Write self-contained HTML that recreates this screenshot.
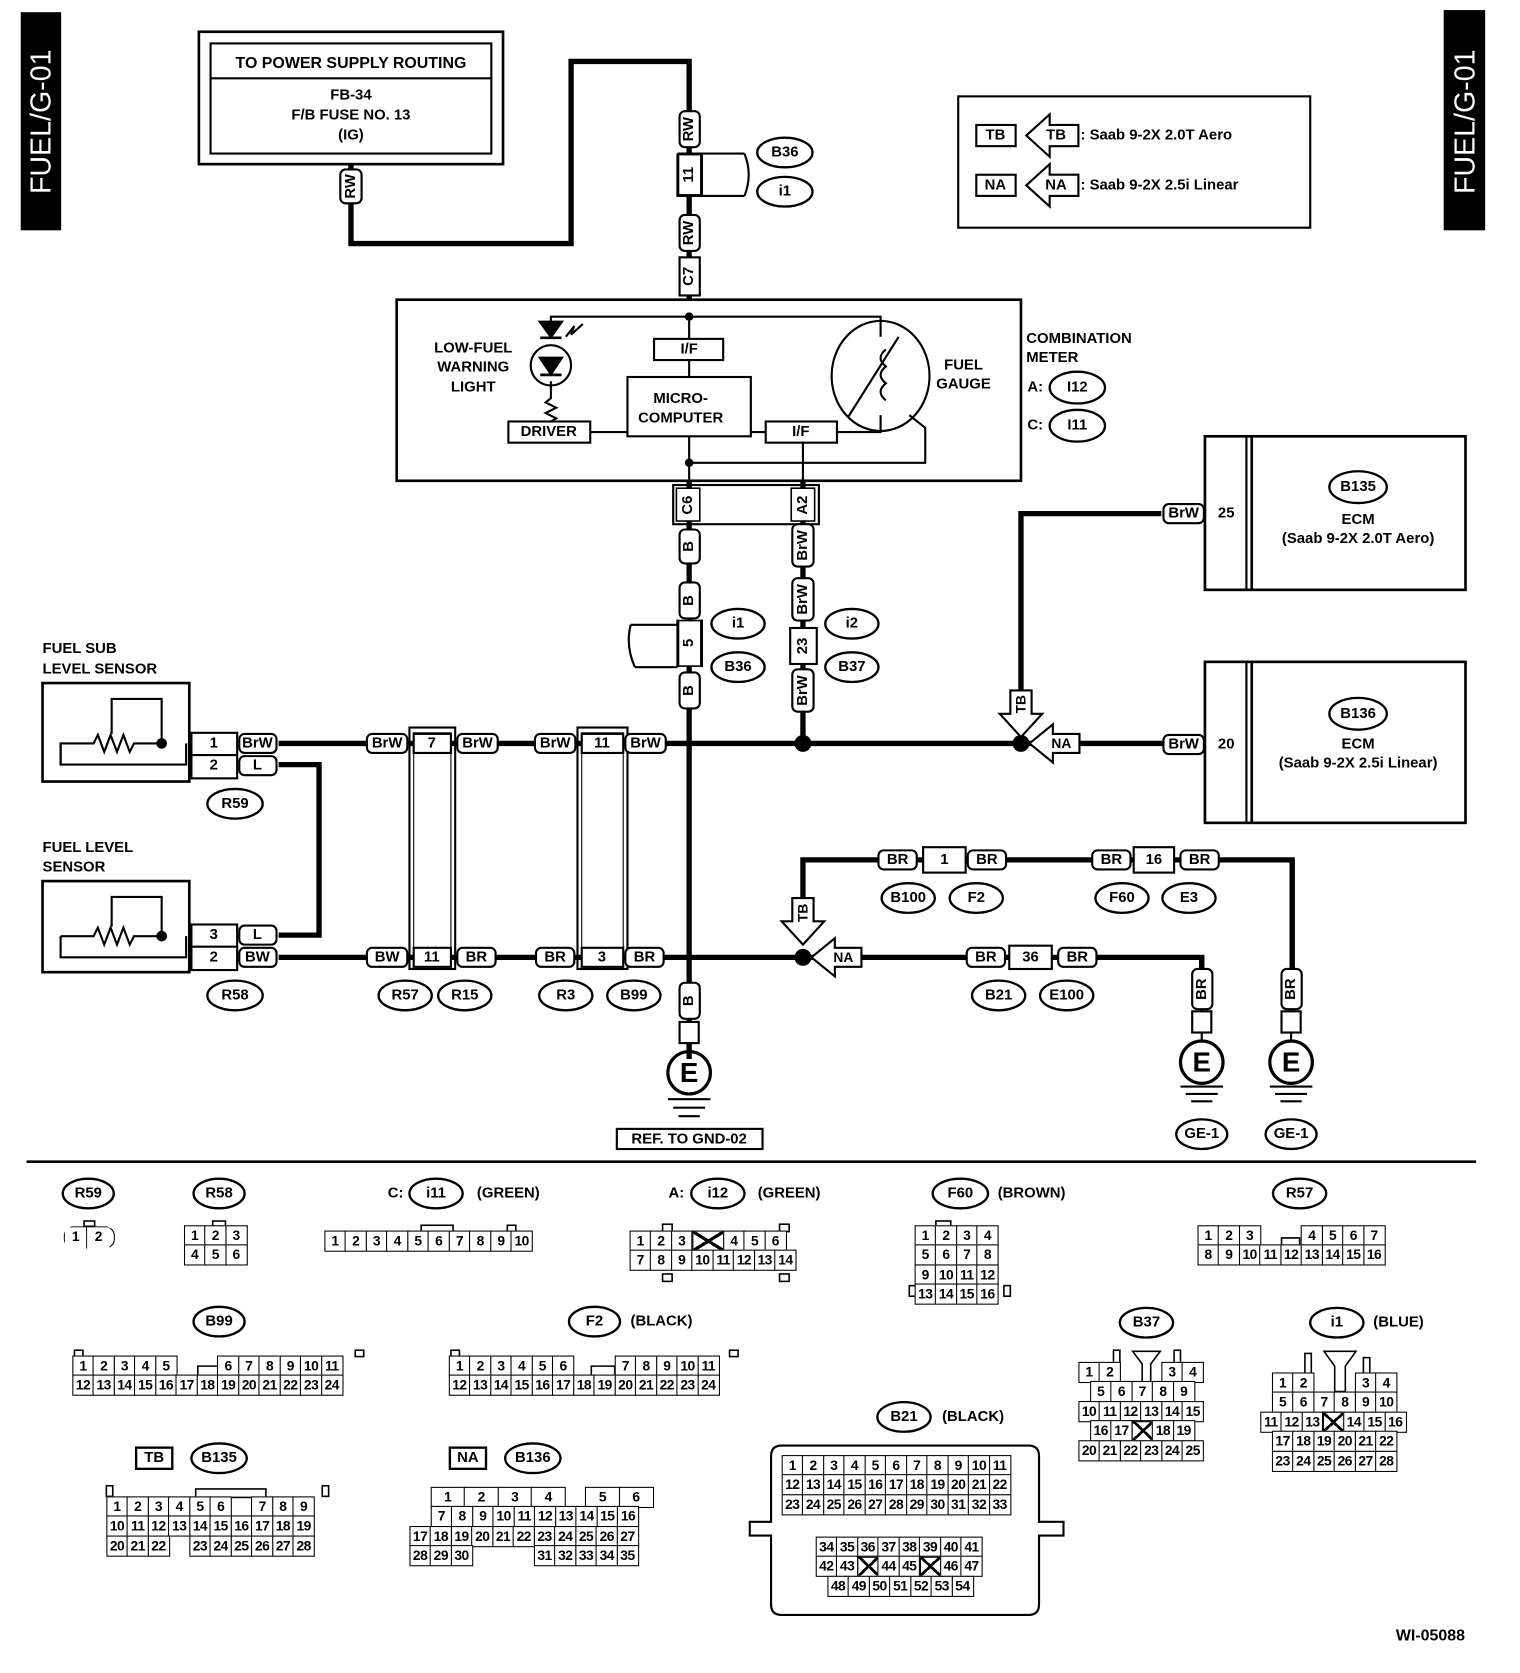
<!DOCTYPE html>
<html><head><meta charset="utf-8"><style>
html,body{margin:0;padding:0;background:#fff;}
#w{position:relative;width:1440px;height:1580px;transform:scale(1.0635,1.059);transform-origin:0 0;overflow:hidden;font-family:"Liberation Sans",Arial,sans-serif;}
svg{position:absolute;left:0;top:0}
svg text{font-family:"Liberation Sans",Arial,sans-serif;font-size:14px;font-weight:bold;text-anchor:middle;dominant-baseline:central;fill:#000}
.g{position:absolute}
.g div{display:flex;height:20px;margin-top:-1.5px}
.g span{display:block;width:21px;height:20px;border:1.5px solid #000;margin-left:-1.5px;box-sizing:border-box;font:bold 13px "Liberation Sans",Arial,sans-serif;text-align:center;line-height:18px;letter-spacing:-0.5px;background:#fff}
.g i{display:block;width:21px;height:20px;margin-left:-1.5px}
.g span.x{background:linear-gradient(to top right,transparent 46%,#000 46%,#000 56%,transparent 56%),linear-gradient(to bottom right,transparent 46%,#000 46%,#000 56%,transparent 56%)}
.g span.w{width:33px}
</style></head><body><div id="w">
<svg width="1440" height="1580" viewBox="0 0 1440 1580">
<g stroke="#000" fill="none">
<rect x="20" y="12" width="37" height="205" fill="#000"/>
<rect x="1358" y="10" width="38" height="207" fill="#000"/>
</g>
<text transform="translate(39,115) rotate(-90)" style="fill:#fff;font-size:27px;font-weight:normal">FUEL/G-01</text>
<text transform="translate(1378,115) rotate(-90)" style="fill:#fff;font-size:27px;font-weight:normal">FUEL/G-01</text>

<g stroke="#000" fill="none" stroke-width="2.5">
<rect x="187" y="30" width="286" height="125"/>
<rect x="198" y="41" width="264" height="104" stroke-width="2"/>
<line x1="198" y1="74" x2="462" y2="74" stroke-width="2"/>
<g stroke-width="5">
<polyline points="330,155 330,230 537,230 537,58 648,58 648,283"/>
<line x1="648" y1="454" x2="648" y2="1000"/>
<line x1="755" y1="454" x2="755" y2="702"/>
<line x1="262" y1="702" x2="1115" y2="702"/>
<polyline points="1092,485 960,485 960,660"/>
<polyline points="262,722 300,722 300,883 262,883"/>
<polyline points="262,904 1130,904 1130,925"/>
<polyline points="755,870 755,812 1215,812 1215,925"/>
</g>
<rect x="373" y="283" width="587" height="171"/>
<g stroke-width="2">
<polyline points="518,305 518,299 828,299 828,318"/>
<line x1="648" y1="299" x2="648" y2="320"/>
<line x1="648" y1="340" x2="648" y2="356"/>
<line x1="648" y1="412" x2="648" y2="454"/>
<polyline points="648,437 870,437 870,404 855,392"/>
<line x1="755" y1="417" x2="755" y2="454"/>
<line x1="555" y1="408" x2="590" y2="408"/>
<line x1="706" y1="408" x2="720" y2="408"/>
<polyline points="787,408 828,408 828,392"/>
<rect x="615" y="320" width="65" height="20"/>
<rect x="590" y="356" width="116" height="56"/>
<rect x="478" y="398" width="77" height="20"/>
<rect x="720" y="398" width="67" height="20"/>
<ellipse cx="828" cy="355" rx="46" ry="52"/>
<line x1="798" y1="393" x2="845" y2="318"/>
<circle cx="518" cy="345" r="19"/>
<polyline points="518,360 518,376 513,380 523,385 513,390 523,395 518,398"/>
</g>
<path d="M833,330 q-10,8 0,16 q-10,8 0,16 q-10,8 0,16" stroke-width="2"/>
<path d="M508,338 L528,338 L518,353 Z" fill="#000"/><line x1="508" y1="354" x2="528" y2="354"/>
<path d="M508,304 L528,304 L518,318 Z" fill="#000"/><line x1="508" y1="319" x2="528" y2="319"/>
<polyline points="532,318 540,308 537,316 548,306" stroke-width="2"/>
<rect x="633" y="458" width="137" height="37" stroke-width="2"/>
<rect x="636" y="461" width="22" height="31" stroke-width="1.5" fill="#fff"/>
<rect x="744" y="461" width="22" height="31" stroke-width="1.5" fill="#fff"/>
<path d="M637,145 V185 H700 M637,145 H700 M660,145 V185" stroke-width="2"/>
<rect x="638" y="146" width="21" height="38" fill="#fff" stroke-width="1.5"/>
<path d="M700,145 q8,20 0,40" stroke-width="2"/>
<path d="M660,585 V630 M637,585 V630 M637,590 H593 M637,630 H597" stroke-width="2"/>
<rect x="638" y="586" width="21" height="43" fill="#fff" stroke-width="1.5"/>
<path d="M593,590 q-5,20 4,40" stroke-width="2"/>
<rect x="743" y="593" width="25" height="34" stroke-width="2" fill="#fff"/>
<rect x="385" y="687" width="43" height="228" stroke-width="2"/>
<rect x="389" y="692" width="35" height="219" stroke-width="1"/>
<rect x="543" y="687" width="47" height="228" stroke-width="2"/>
<rect x="547" y="692" width="39" height="219" stroke-width="1"/>
<rect x="389" y="693" width="35" height="18" stroke-width="2" fill="#fff"/>
<rect x="389" y="895" width="35" height="18" stroke-width="2" fill="#fff"/>
<rect x="547" y="693" width="39" height="18" stroke-width="2" fill="#fff"/>
<rect x="547" y="895" width="39" height="18" stroke-width="2" fill="#fff"/>
<rect x="40" y="645" width="138" height="93"/>
<polyline points="57,702 57,722 175,722 175,702" stroke-width="2"/>
<polyline points="57,722 57,702 88,702 92,694 98,710 104,694 110,710 116,694 122,710 126,702 152,702" stroke-width="2"/>
<polyline points="105,693 105,660 152,660 152,702" stroke-width="2"/>
<rect x="40" y="832" width="138" height="86"/>
<polyline points="57,884 57,904 175,904 175,884" stroke-width="2"/>
<polyline points="57,884 88,884 92,876 98,892 104,876 110,892 116,876 122,892 126,884 152,884" stroke-width="2"/>
<polyline points="105,875 105,847 152,847 152,884" stroke-width="2"/>
<rect x="180" y="692" width="43" height="43" stroke-width="2"/>
<line x1="180" y1="713" x2="223" y2="713" stroke-width="2"/>
<rect x="180" y="873" width="43" height="43" stroke-width="2"/>
<line x1="180" y1="894" x2="223" y2="894" stroke-width="2"/>
<rect x="1133" y="412" width="245" height="145"/>
<rect x="1133" y="412" width="39" height="145" stroke-width="2"/>
<line x1="1177" y1="412" x2="1177" y2="557"/>
<rect x="1133" y="625" width="245" height="152"/>
<rect x="1133" y="625" width="39" height="152" stroke-width="2"/>
<line x1="1177" y1="625" x2="1177" y2="777"/>
<rect x="901" y="91" width="331" height="124" stroke-width="2"/>
<line x1="25" y1="1097" x2="1388" y2="1097" stroke-width="2.5"/>
<g stroke-width="2">
<rect x="639" y="965" width="18" height="20" fill="#fff"/><line x1="648" y1="985" x2="648" y2="993"/>
<circle cx="648" cy="1013" r="20" stroke-width="3"/>
<line x1="628" y1="1038" x2="668" y2="1038"/><line x1="633" y1="1046" x2="663" y2="1046"/><line x1="638" y1="1054" x2="658" y2="1054"/>
<line x1="1130" y1="945" x2="1130" y2="983"/><rect x="1121" y="955" width="18" height="20" fill="#fff"/>
<circle cx="1130" cy="1003" r="20" stroke-width="3"/>
<line x1="1110" y1="1026" x2="1150" y2="1026"/><line x1="1115" y1="1033" x2="1145" y2="1033"/><line x1="1120" y1="1040" x2="1140" y2="1040"/>
<line x1="1214" y1="945" x2="1214" y2="983"/><rect x="1205" y="955" width="18" height="20" fill="#fff"/>
<circle cx="1214" cy="1003" r="20" stroke-width="3"/>
<line x1="1194" y1="1026" x2="1234" y2="1026"/><line x1="1199" y1="1033" x2="1229" y2="1033"/><line x1="1204" y1="1040" x2="1224" y2="1040"/>
<line x1="1130" y1="904" x2="1130" y2="945" stroke-width="5"/>
<line x1="1215" y1="812" x2="1215" y2="945" stroke-width="5"/>
<rect x="580" y="1066" width="137" height="19"/>
</g>
<path d="M735,1365 h232 q10,0 10,10 v62 h23 v13 h-23 v65 q0,10 -10,10 h-232 q-10,0 -10,-10 v-65 h-20 v-13 h20 v-62 q0,-10 10,-10 Z" stroke-width="2"/>
<rect x="1047" y="1275" width="6" height="12" stroke-width="1.5"/><rect x="1104" y="1275" width="6" height="12" stroke-width="1.5"/>
<path d="M1065,1276 h26 l-9,12 v20 h-8 v-20 Z" stroke-width="1.5"/>
<rect x="1227" y="1278" width="6" height="20" stroke-width="1.5"/><rect x="1282" y="1282" width="6" height="16" stroke-width="1.5"/>
<path d="M1245,1276 h30 l-10,14 v24 h-10 v-24 Z" stroke-width="1.5"/>
<rect x="184" y="1406" width="66" height="8" stroke-width="1.5"/>
<rect x="100" y="1403" width="6" height="10" stroke-width="1.5"/><rect x="303" y="1403" width="6" height="10" stroke-width="1.5"/>
<rect x="70" y="1275" width="8" height="6" stroke-width="1.5"/><rect x="334" y="1275" width="8" height="6" stroke-width="1.5"/>
<rect x="424" y="1275" width="8" height="6" stroke-width="1.5"/><rect x="686" y="1275" width="8" height="6" stroke-width="1.5"/>
<polyline points="186,1298 186,1290 206,1290 206,1298" stroke-width="1.5"/>
<polyline points="556,1298 556,1290 578,1290 578,1298" stroke-width="1.5"/>
<polyline points="1205,1178 1205,1169 1222,1169 1222,1178" stroke-width="1.5"/>
<rect x="200" y="1153" width="12" height="5" stroke-width="1.5"/><rect x="79" y="1153" width="10" height="5" stroke-width="1.5"/>
<rect x="396" y="1157" width="30" height="6" stroke-width="1.5"/><rect x="477" y="1157" width="8" height="6" stroke-width="1.5"/>
<rect x="623" y="1156" width="9" height="7" stroke-width="1.5"/><rect x="623" y="1203" width="9" height="7" stroke-width="1.5"/>
<rect x="733" y="1156" width="9" height="7" stroke-width="1.5"/><rect x="733" y="1203" width="9" height="7" stroke-width="1.5"/>
<rect x="880" y="1153" width="14" height="5" stroke-width="1.5"/><rect x="855" y="1214" width="6" height="10" stroke-width="1.5"/><rect x="944" y="1214" width="6" height="10" stroke-width="1.5"/>
</g>

<g fill="#000">
<circle cx="755" cy="702" r="8"/><circle cx="960" cy="702" r="8"/><circle cx="755" cy="904" r="8"/>
<circle cx="648" cy="299" r="4"/><circle cx="648" cy="437" r="4"/>
<circle cx="152" cy="702" r="5"/><circle cx="152" cy="884" r="5"/>
</g>

<g stroke="#000" stroke-width="2" fill="#fff">
<path d="M950,652 h20 v22 h10 l-20,22 l-20,-22 h10 Z"/>
<path d="M968,702 l22,-18 v9 h25 v18 h-25 v9 Z"/>
<path d="M745,848 h20 v22 h10 l-20,22 l-20,-22 h10 Z"/>
<path d="M763,904 l22,-18 v9 h25 v18 h-25 v9 Z"/>
<path d="M965,128 l22,-20 v10 h27 v20 h-27 v10 Z"/>
<path d="M965,175 l22,-20 v10 h27 v20 h-27 v10 Z"/>
<rect x="918" y="118" width="37" height="20"/>
<rect x="918" y="165" width="37" height="20"/>
</g>
<text x="960" y="665" transform="rotate(-90 960 665)" style="font-size:13px">TB</text>
<text x="998" y="702" style="font-size:13px">NA</text>
<text x="755" y="862" transform="rotate(-90 755 862)" style="font-size:13px">TB</text>
<text x="793" y="904" style="font-size:13px">NA</text>
<text x="936" y="128">TB</text><text x="993" y="128">TB</text>
<text x="936" y="175">NA</text><text x="993" y="175">NA</text>
<text x="1016" y="128" style="text-anchor:start">: Saab 9-2X 2.0T Aero</text>
<text x="1016" y="175" style="text-anchor:start">: Saab 9-2X 2.5i Linear</text>

<text x="330" y="60" style="font-size:15px">TO POWER SUPPLY ROUTING</text>
<text x="330" y="90">FB-34</text>
<text x="330" y="109">F/B FUSE NO. 13</text>
<text x="330" y="128">(IG)</text>

<text x="445" y="329">LOW-FUEL</text><text x="445" y="347">WARNING</text><text x="445" y="366">LIGHT</text>
<text x="906" y="345">FUEL</text><text x="906" y="363">GAUGE</text>
<text x="648" y="330">I/F</text><text x="753" y="408">I/F</text>
<text x="640" y="377">MICRO-</text><text x="640" y="395">COMPUTER</text>
<text x="516" y="408">DRIVER</text>
<text x="965" y="320" style="text-anchor:start">COMBINATION</text>
<text x="965" y="338" style="text-anchor:start">METER</text>
<text x="966" y="366" style="text-anchor:start">A:</text><text x="966" y="402" style="text-anchor:start">C:</text>
<text x="647" y="477" transform="rotate(-90 647 477)">C6</text>
<text x="755" y="477" transform="rotate(-90 755 477)">A2</text>
<text x="648" y="165" transform="rotate(-90 648 165)">11</text>
<text x="648" y="607" transform="rotate(-90 648 607)">5</text>
<text x="755" y="610" transform="rotate(-90 755 610)">23</text>

<text x="40" y="613" style="text-anchor:start">FUEL SUB</text>
<text x="40" y="632" style="text-anchor:start">LEVEL SENSOR</text>
<text x="40" y="801" style="text-anchor:start">FUEL LEVEL</text>
<text x="40" y="819" style="text-anchor:start">SENSOR</text>
<text x="201" y="702">1</text><text x="201" y="723">2</text>
<text x="201" y="883">3</text><text x="201" y="904">2</text>
<text x="406" y="702">7</text><text x="406" y="904">11</text>
<text x="566" y="702">11</text><text x="566" y="904">3</text>

<text x="1153" y="485">25</text><text x="1153" y="703">20</text>
<text x="1277" y="491">ECM</text><text x="1277" y="509">(Saab 9-2X 2.0T Aero)</text>
<text x="1277" y="703">ECM</text><text x="1277" y="721">(Saab 9-2X 2.5i Linear)</text>

<text x="648" y="1013" style="font-size:26px">E</text>
<text x="1130" y="1003" style="font-size:26px">E</text>
<text x="1214" y="1003" style="font-size:26px">E</text>
<text x="648" y="1076">REF. TO GND-02</text>
<text x="1345" y="1545" style="font-size:15px">WI-05088</text>

<g stroke="#000" stroke-width="2" fill="#fff">
<rect x="225" y="693" width="35" height="18" rx="5"/><rect x="225" y="714" width="35" height="18" rx="5"/>
<rect x="225" y="874" width="35" height="18" rx="5"/><rect x="225" y="895" width="35" height="18" rx="5"/>
<rect x="345" y="693" width="38" height="18" rx="5"/><rect x="430" y="693" width="38" height="18" rx="5"/>
<rect x="503" y="693" width="38" height="18" rx="5"/><rect x="588" y="693" width="38" height="18" rx="5"/>
<rect x="345" y="895" width="38" height="18" rx="5"/><rect x="430" y="895" width="36" height="18" rx="5"/>
<rect x="504" y="895" width="36" height="18" rx="5"/><rect x="588" y="895" width="36" height="18" rx="5"/>
<rect x="1094" y="476" width="38" height="18" rx="5"/><rect x="1094" y="694" width="38" height="18" rx="5"/>
<rect x="826" y="803" width="36" height="18" rx="5"/><rect x="910" y="803" width="36" height="18" rx="5"/>
<rect x="1027" y="803" width="36" height="18" rx="5"/><rect x="1110" y="803" width="36" height="18" rx="5"/>
<rect x="909" y="895" width="36" height="18" rx="5"/><rect x="995" y="895" width="36" height="18" rx="5"/>
<rect x="868" y="800" width="40" height="24"/><rect x="1066" y="800" width="38" height="24"/><rect x="949" y="893" width="40" height="22"/>
<rect x="320" y="160" width="20" height="32" rx="5"/>
<rect x="639" y="105" width="19" height="34" rx="5"/><rect x="639" y="203" width="19" height="34" rx="5"/>
<rect x="639" y="243" width="19" height="36"/>
<rect x="639" y="500" width="19" height="32" rx="5"/><rect x="639" y="550" width="19" height="34" rx="5"/>
<rect x="639" y="635" width="19" height="34" rx="5"/><rect x="639" y="928" width="19" height="34" rx="5"/>
<rect x="745" y="495" width="20" height="40" rx="5"/><rect x="745" y="546" width="20" height="40" rx="5"/>
<rect x="745" y="632" width="20" height="40" rx="5"/>
<rect x="1121" y="915" width="19" height="38" rx="5"/><rect x="1205" y="915" width="19" height="38" rx="5"/>
</g>
<text x="242" y="702">BrW</text><text x="242" y="723">L</text>
<text x="242" y="883">L</text><text x="242" y="904">BW</text>
<text x="364" y="702">BrW</text><text x="449" y="702">BrW</text>
<text x="522" y="702">BrW</text><text x="607" y="702">BrW</text>
<text x="364" y="904">BW</text><text x="448" y="904">BR</text>
<text x="522" y="904">BR</text><text x="606" y="904">BR</text>
<text x="1113" y="485">BrW</text><text x="1113" y="703">BrW</text>
<text x="844" y="812">BR</text><text x="928" y="812">BR</text><text x="888" y="812">1</text>
<text x="1045" y="812">BR</text><text x="1128" y="812">BR</text><text x="1085" y="812">16</text>
<text x="927" y="904">BR</text><text x="1013" y="904">BR</text><text x="969" y="904">36</text>
<g style="font-size:13px">
<text x="330" y="176" transform="rotate(-90 330 176)">RW</text>
<text x="648" y="122" transform="rotate(-90 648 122)">RW</text>
<text x="648" y="220" transform="rotate(-90 648 220)">RW</text>
<text x="648" y="261" transform="rotate(-90 648 261)">C7</text>
<text x="648" y="516" transform="rotate(-90 648 516)">B</text>
<text x="648" y="567" transform="rotate(-90 648 567)">B</text>
<text x="648" y="652" transform="rotate(-90 648 652)">B</text>
<text x="648" y="945" transform="rotate(-90 648 945)">B</text>
<text x="755" y="515" transform="rotate(-90 755 515)">BrW</text>
<text x="755" y="566" transform="rotate(-90 755 566)">BrW</text>
<text x="755" y="652" transform="rotate(-90 755 652)">BrW</text>
<text x="1130" y="934" transform="rotate(-90 1130 934)">BR</text>
<text x="1214" y="934" transform="rotate(-90 1214 934)">BR</text>
</g>

<g stroke="#000" stroke-width="2.2" fill="#fff">
<ellipse cx="738" cy="144" rx="26" ry="14"/><ellipse cx="738" cy="181" rx="26" ry="14"/>
<ellipse cx="1013" cy="366" rx="26" ry="15"/><ellipse cx="1013" cy="402" rx="26" ry="15"/>
<ellipse cx="694" cy="589" rx="25" ry="14"/><ellipse cx="694" cy="630" rx="25" ry="14"/>
<ellipse cx="801" cy="589" rx="25" ry="14"/><ellipse cx="801" cy="630" rx="25" ry="14"/>
<ellipse cx="1277" cy="460" rx="27" ry="15"/><ellipse cx="1277" cy="674" rx="27" ry="15"/>
<ellipse cx="221" cy="759" rx="26" ry="14"/><ellipse cx="221" cy="940" rx="26" ry="14"/>
<ellipse cx="381" cy="940" rx="25" ry="14"/><ellipse cx="437" cy="940" rx="25" ry="14"/>
<ellipse cx="532" cy="940" rx="25" ry="14"/><ellipse cx="596" cy="940" rx="25" ry="14"/>
<ellipse cx="854" cy="848" rx="25" ry="14"/><ellipse cx="918" cy="848" rx="25" ry="14"/>
<ellipse cx="1055" cy="848" rx="25" ry="14"/><ellipse cx="1118" cy="848" rx="25" ry="14"/>
<ellipse cx="939" cy="940" rx="25" ry="14"/><ellipse cx="1003" cy="940" rx="25" ry="14"/>
<ellipse cx="1130" cy="1071" rx="24" ry="14"/><ellipse cx="1214" cy="1071" rx="24" ry="14"/>
<ellipse cx="83" cy="1127" rx="24" ry="14"/><ellipse cx="206" cy="1127" rx="24" ry="14"/>
<ellipse cx="410" cy="1127" rx="25" ry="14"/><ellipse cx="675" cy="1127" rx="25" ry="14"/>
<ellipse cx="903" cy="1127" rx="26" ry="14"/><ellipse cx="1222" cy="1127" rx="25" ry="14"/>
<ellipse cx="206" cy="1248" rx="24" ry="14"/><ellipse cx="559" cy="1248" rx="24" ry="14"/>
<ellipse cx="1078" cy="1249" rx="25" ry="14"/><ellipse cx="1257" cy="1249" rx="25" ry="14"/>
<ellipse cx="850" cy="1338" rx="25" ry="14"/>
<ellipse cx="206" cy="1377" rx="26" ry="14"/><ellipse cx="501" cy="1377" rx="26" ry="14"/>
<rect x="128" y="1367" width="34" height="20"/><rect x="423" y="1367" width="34" height="20"/>
</g>
<text x="738" y="144">B36</text><text x="738" y="181">i1</text>
<text x="1013" y="366">I12</text><text x="1013" y="402">I11</text>
<text x="694" y="589">i1</text><text x="694" y="630">B36</text>
<text x="801" y="589">i2</text><text x="801" y="630">B37</text>
<text x="1277" y="460">B135</text><text x="1277" y="674">B136</text>
<text x="221" y="759">R59</text><text x="221" y="940">R58</text>
<text x="381" y="940">R57</text><text x="437" y="940">R15</text>
<text x="532" y="940">R3</text><text x="596" y="940">B99</text>
<text x="854" y="848">B100</text><text x="918" y="848">F2</text>
<text x="1055" y="848">F60</text><text x="1118" y="848">E3</text>
<text x="939" y="940">B21</text><text x="1003" y="940">E100</text>
<text x="1130" y="1071">GE-1</text><text x="1214" y="1071">GE-1</text>
<text x="83" y="1127">R59</text><text x="206" y="1127">R58</text>
<text x="372" y="1127">C:</text><text x="410" y="1127">i11</text><text x="478" y="1127">(GREEN)</text>
<text x="636" y="1127">A:</text><text x="675" y="1127">i12</text><text x="742" y="1127">(GREEN)</text>
<text x="903" y="1127">F60</text><text x="970" y="1127">(BROWN)</text>
<text x="1222" y="1127">R57</text>
<text x="206" y="1248">B99</text><text x="559" y="1248">F2</text><text x="622" y="1248">(BLACK)</text>
<text x="1078" y="1249">B37</text><text x="1257" y="1249">i1</text><text x="1315" y="1249">(BLUE)</text>
<text x="850" y="1338">B21</text><text x="915" y="1338">(BLACK)</text>
<text x="145" y="1377">TB</text><text x="206" y="1377">B135</text>
<text x="440" y="1377">NA</text><text x="501" y="1377">B136</text>
</svg>

<div class="g" style="left:60px;top:1158px"><div style="border:1.5px solid #000;border-radius:9px;width:46px;height:19px;margin:0"><span style="border:none;border-right:1.5px solid #000;margin:0">1</span><span style="border:none;margin:0">2</span></div></div>
<div class="g" style="left:174px;top:1158px"><div><span>1</span><span>2</span><span>3</span></div><div><span>4</span><span>5</span><span>6</span></div></div>
<div class="g" style="left:306px;top:1163px"><div><span>1</span><span>2</span><span>3</span><span>4</span><span>5</span><span>6</span><span>7</span><span>8</span><span>9</span><span>10</span></div></div>
<div class="g" style="left:593px;top:1163px"><div><span>1</span><span>2</span><span>3</span><span class="x" style="width:31px"></span><span>4</span><span>5</span><span>6</span></div><div><span>7</span><span>8</span><span>9</span><span>10</span><span>11</span><span>12</span><span>13</span><span>14</span></div></div>
<div class="g" style="left:861px;top:1158px"><div><span>1</span><span>2</span><span>3</span><span>4</span></div><div><span>5</span><span>6</span><span>7</span><span>8</span></div><div><span>9</span><span>10</span><span>11</span><span>12</span></div><div><span>13</span><span>14</span><span>15</span><span>16</span></div></div>
<div class="g" style="left:1127px;top:1158px"><div><span>1</span><span>2</span><span>3</span><i></i><i></i><span>4</span><span>5</span><span>6</span><span>7</span></div><div><span>8</span><span>9</span><span>10</span><span>11</span><span>12</span><span>13</span><span>14</span><span>15</span><span>16</span></div></div>
<div class="g" style="left:69px;top:1281px"><div><span>1</span><span>2</span><span>3</span><span>4</span><span>5</span><i></i><i></i><span>6</span><span>7</span><span>8</span><span>9</span><span>10</span><span>11</span></div><div><span>12</span><span>13</span><span>14</span><span>15</span><span>16</span><span>17</span><span>18</span><span>19</span><span>20</span><span>21</span><span>22</span><span>23</span><span>24</span></div></div>
<div class="g" style="left:423px;top:1281px"><div><span>1</span><span>2</span><span>3</span><span>4</span><span>5</span><span>6</span><i></i><i></i><span>7</span><span>8</span><span>9</span><span>10</span><span>11</span></div><div><span>12</span><span>13</span><span>14</span><span>15</span><span>16</span><span>17</span><span>18</span><span>19</span><span>20</span><span>21</span><span>22</span><span>23</span><span>24</span></div></div>
<div class="g" style="left:1015px;top:1287px"><div><span>1</span><span>2</span><i></i><i></i><span>3</span><span>4</span></div><div style="margin-left:11px"><span>5</span><span>6</span><span>7</span><span>8</span><span>9</span></div><div><span>10</span><span>11</span><span>12</span><span>13</span><span>14</span><span>15</span></div><div style="margin-left:11px"><span>16</span><span>17</span><span class="x"></span><span>18</span><span>19</span></div><div><span>20</span><span>21</span><span>22</span><span>23</span><span>24</span><span>25</span></div></div>
<div class="g" style="left:1186px;top:1297px"><div style="margin-left:11px"><span>1</span><span>2</span><i></i><i></i><span>3</span><span>4</span></div><div style="margin-left:11px"><span>5</span><span>6</span><span>7</span><span>8</span><span>9</span><span>10</span></div><div><span>11</span><span>12</span><span>13</span><span class="x"></span><span>14</span><span>15</span><span>16</span></div><div style="margin-left:11px"><span>17</span><span>18</span><span>19</span><span>20</span><span>21</span><span>22</span></div><div style="margin-left:11px"><span>23</span><span>24</span><span>25</span><span>26</span><span>27</span><span>28</span></div></div>
<div class="g" style="left:736px;top:1375px"><div><span>1</span><span>2</span><span>3</span><span>4</span><span>5</span><span>6</span><span>7</span><span>8</span><span>9</span><span>10</span><span>11</span></div><div><span>12</span><span>13</span><span>14</span><span>15</span><span>16</span><span>17</span><span>18</span><span>19</span><span>20</span><span>21</span><span>22</span></div><div><span>23</span><span>24</span><span>25</span><span>26</span><span>27</span><span>28</span><span>29</span><span>30</span><span>31</span><span>32</span><span>33</span></div></div>
<div class="g" style="left:768px;top:1452px"><div><span>34</span><span>35</span><span>36</span><span>37</span><span>38</span><span>39</span><span>40</span><span>41</span></div><div><span>42</span><span>43</span><span class="x"></span><span>44</span><span>45</span><span class="x"></span><span>46</span><span>47</span></div><div style="margin-left:11px"><span>48</span><span>49</span><span>50</span><span>51</span><span>52</span><span>53</span><span>54</span></div></div>
<div class="g" style="left:101px;top:1414px"><div><span>1</span><span>2</span><span>3</span><span>4</span><span>5</span><span>6</span><i></i><span>7</span><span>8</span><span>9</span></div><div><span>10</span><span>11</span><span>12</span><span>13</span><span>14</span><span>15</span><span>16</span><span>17</span><span>18</span><span>19</span></div><div><span>20</span><span>21</span><span>22</span><i></i><span>23</span><span>24</span><span>25</span><span>26</span><span>27</span><span>28</span></div></div>
<div class="g" style="left:386px;top:1405px"><div style="margin-left:20px"><span class="w">1</span><span class="w">2</span><span class="w">3</span><span class="w">4</span><i></i><span class="w">5</span><span class="w">6</span></div><div style="margin-left:20px"><span>7</span><span>8</span><span>9</span><span>10</span><span>11</span><span>12</span><span>13</span><span>14</span><span>15</span><span>16</span></div><div><span>17</span><span>18</span><span>19</span><span>20</span><span>21</span><span>22</span><span>23</span><span>24</span><span>25</span><span>26</span><span>27</span></div><div><span>28</span><span>29</span><span>30</span><i></i><i></i><i></i><span>31</span><span>32</span><span>33</span><span>34</span><span>35</span></div></div>
</div></body></html>
